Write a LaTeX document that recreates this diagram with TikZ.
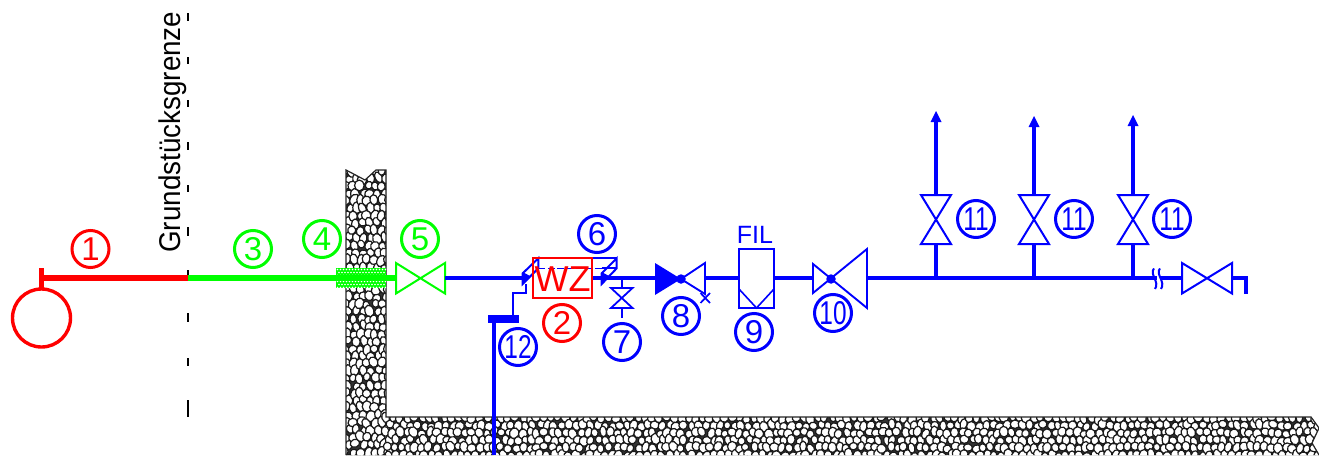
\documentclass[tikz,border=0pt]{standalone}
\usepackage{fontspec}
\setmainfont{Liberation Sans}
\definecolor{pipeblue}{RGB}{0,0,255}
\definecolor{pipered}{RGB}{255,0,0}
\definecolor{pipegreen}{RGB}{0,255,0}
\tikzset{
  numcirc/.style={circle,draw,line width=3pt,minimum size=37pt,inner sep=0pt,font=\fontsize{33}{33}\selectfont},
  dot/.style={circle,fill=pipeblue,inner sep=0pt,minimum size=9.5pt},
  bluepart/.style={draw=pipeblue,text=pipeblue},
  redpart/.style={draw=pipered,text=pipered},
  greenpart/.style={draw=pipegreen,text=pipegreen},
  stone/.style={fill=white,draw=black!90,line width=1.2pt},
}
\begin{document}
\begin{tikzpicture}[x=1pt,y=-1pt]
\useasboundingbox (0,0) rectangle (1319,455);
\fill[white] (0,0) rectangle (1319,455);
% --- masonry
\begin{scope}
\clip (346,170) -- (365,180) -- (376,170) -- (386,170) -- (386,417) -- (1311,417) -- (1319,428) -- (1312,443) -- (1319,455) -- (346,455) -- cycle;
\fill[black!80] (340,165) rectangle (1325,460);
\pgfmathsetseed{4711}
\foreach \ix in {0,...,6}{\foreach \iy in {0,...,39}{
  \pgfmathsetmacro{\px}{346+7.2*\ix+mod(\iy,2)*3+1.5*rand}
  \pgfmathsetmacro{\py}{171+7.4*\iy+1.5*rand}
  \pgfmathsetmacro{\ra}{3.3+1.5*rnd}
  \pgfmathsetmacro{\rb}{3.8+2.2*rnd}
  \pgfmathsetmacro{\rt}{-30+60*rnd}
  \path[stone,rotate around={\rt:(\px,\py)}] (\px,\py) ellipse [x radius=\ra,y radius=\rb];
}}
\foreach \ix in {0,...,130}{\foreach \iy in {0,...,5}{
  \pgfmathsetmacro{\px}{386+7.2*\ix+mod(\iy,2)*3+1.5*rand}
  \pgfmathsetmacro{\py}{418+7.4*\iy+1.5*rand}
  \pgfmathsetmacro{\ra}{3.3+1.5*rnd}
  \pgfmathsetmacro{\rb}{3.6+2.0*rnd}
  \pgfmathsetmacro{\rt}{-30+60*rnd}
  \path[stone,rotate around={\rt:(\px,\py)}] (\px,\py) ellipse [x radius=\ra,y radius=\rb];
}}
\end{scope}
\draw[line width=1.2pt,black!85,line join=miter] (346,455) -- (346,170) -- (365,180) -- (376,170) -- (386,170) -- (386,417) -- (1311,417) -- (1319,428) -- (1312,443) -- (1319,455);
% --- property line
\draw[line width=2.2pt,black] (188,13) -- (188,21) (188,57) -- (188,64) (188,100) -- (188,107) (188,142) -- (188,150) (188,185) -- (188,192) (188,227) -- (188,236) (188,270) -- (188,278) (188,313) -- (188,322) (188,358) -- (188,366) (188,400) -- (188,417);
\node[rotate=90,inner sep=0pt,font=\fontsize{30}{30}\selectfont,anchor=base west] (grenze) at (180,253) {\scalebox{0.927}[1]{Grundstücksgrenze}};
% --- sleeve
\begin{scope}
\clip (336,268) rectangle (386,288);
\fill[pipegreen] (336,268) rectangle (386,288);
\foreach \ix in {0,...,16}{\foreach \iy in {0,...,6}{
  \fill[white] ({337.5+3*\ix+mod(\iy,2)*1.5},{269.5+3*\iy}) circle (0.95);
}}
\end{scope}
% --- named ports
\coordinate (tank) at (41.5,318);
\coordinate (stemTop) at (41,268);
\coordinate (stemBot) at (41,288);
\coordinate (junc0) at (41,278);
\coordinate (boundary) at (188,278);
\coordinate (v5L) at (396,278);
\coordinate (v5R) at (445,278);
\coordinate (mL) at (525,278);
\coordinate (mR) at (592,278);
\coordinate (j7) at (621.7,278);
\coordinate (v8L) at (655,278);
\coordinate (v8C) at (681,279);
\coordinate (v8R) at (705,278);
\coordinate (fL) at (739,278);
\coordinate (fR) at (774,278);
\coordinate (v10L) at (813,278);
\coordinate (v10R) at (867,278);
\coordinate (brk1) at (1157,278);
\coordinate (brk2) at (1161,278);
\coordinate (eL) at (1182,278);
\coordinate (eR) at (1232,278);
\coordinate (eC) at (1246,278);
\coordinate (eD) at (1246,294);
% --- pipes red/green
\draw[pipered,line width=3.4pt] (tank) circle (29);
\draw[pipered,line width=5pt] (stemTop) -- (stemBot);
\draw[pipered,line width=5.5pt] (junc0) -- (boundary);
\draw[pipegreen,line width=5.5pt] (boundary) -- (v5L);
% --- green valve
\draw[pipegreen,line width=2pt,line join=miter] (396,263) -- (396,293.5) -- (445,263) -- (445,293.5) -- cycle;
% --- blue pipes
\foreach \a/\b in {v5R/mL,mR/v8L,v8R/fL,fR/v10L,v10R/brk1,brk2/eL}{
  \draw[pipeblue,line width=4pt] (\a) -- (\b);
}
\draw[pipeblue,line width=4pt] (eR) -- (eC);
\draw[pipeblue,line width=4.6pt] (1246,276) -- (eD);
% --- break mark
\draw[pipeblue,line width=2pt] (1154,268.5) .. controls (1149,274) and (1160,282) .. (1155,289);
\draw[pipeblue,line width=2pt] (1160,268.5) .. controls (1155,274) and (1166,282) .. (1161,289);
% --- end valve
\draw[pipeblue,line width=2pt,line join=miter] (1182,263) -- (1182,293.5) -- (1232,263) -- (1232,293.5) -- cycle;
% --- risers
\foreach \x/\t/\n in {936/111/a,1034/116/b,1133/115/c}{
  \coordinate (r\n b) at (\x,244);
  \coordinate (r\n t) at (\x,195);
  \coordinate (r\n a) at (\x,{\t+8});
  \draw[pipeblue,line width=4pt] (\x,278) -- (r\n b);
  \draw[pipeblue,line width=4pt] (r\n t) -- (r\n a);
  \fill[pipeblue] (\x,\t) -- (\x+5.5,\t+11) -- (\x-5.5,\t+11) -- cycle;
  \draw[pipeblue,line width=2pt,line join=miter] (\x-15,195) -- (\x+15,195) -- (\x-15,244) -- (\x+15,244) -- cycle;
}
% --- valve 7
\coordinate (v7b) at (621.7,318);
\draw[pipeblue,line width=2.2pt] (j7) -- (621.7,288);
\draw[pipeblue,line width=2.2pt] (621.7,308) -- (v7b);
\draw[pipeblue,line width=1.8pt,line join=miter] (611,288) -- (632.5,288) -- (611,308) -- (632.5,308) -- cycle;
% --- valve 8
\fill[pipeblue] (655,263) -- (655,295) -- (681,279) -- cycle;
\draw[pipeblue,line width=1.9pt,line join=miter] (681,279) -- (705,263) -- (705,294) -- cycle;
\node[dot] (d8) at (v8C) {};
\draw[pipeblue,line width=1.7pt] (700.5,293) -- (710,303) (700.5,303) -- (710,293);
% --- filter
\draw[pipeblue,line width=1.9pt,fill=white] (739,249) rectangle (774,308);
\draw[pipeblue,line width=1.6pt] (739,289) -- (756.5,308) -- (774,289);
\node[text=pipeblue,inner sep=0pt,font=\fontsize{25}{25}\selectfont] (fil) at (755,234.5) {FIL};
% --- valve 10
\draw[pipeblue,line width=1.9pt,line join=miter] (813,264) -- (813,293) -- (867,249) -- (867,308) -- cycle;
\node[dot] (d10) at (831,279) {};
% --- gas meter
\draw[pipeblue,line width=1.7pt] (513,315) -- (513,293) -- (526,293) -- (526,284);
\draw[pipeblue,line width=2pt,line join=miter] (538.3,258.3) -- (616.7,258.3);
\draw[pipeblue,line width=1.4pt,dash pattern=on 7pt off 2.5pt] (538.3,268.3) -- (601.7,268.3);
\draw[pipeblue,line width=2pt,line join=miter] (522.7,284) -- (522.7,273.3) -- (538.3,258.3) -- (538.3,268.3) -- cycle;
\fill[pipeblue] (522.7,284) -- (522.7,272) -- (530,276) -- cycle;
\draw[pipeblue,line width=2pt,line join=miter] (601.7,284) -- (601.7,273.3) -- (616.7,258.3) -- (616.7,268.3) -- cycle;
\draw[pipeblue,line width=2pt] (601.7,268.3) -- (616.7,268.3);
\fill[pipeblue] (601.7,284) -- (601.7,272) -- (609,276) -- cycle;
\draw[pipered,line width=2.2pt] (533,258) rectangle (592,298);
\node[text=pipered,inner sep=0pt,font=\fontsize{36}{36}\selectfont] (wz) at (562.5,279) {WZ};
% --- service line
\fill[pipeblue] (488,315) rectangle (519,323);
\coordinate (svcT) at (494,323);
\coordinate (svcB) at (494,455);
\draw[pipeblue,line width=4pt] (svcT) -- (svcB);
% --- labels
\foreach \nm/\x/\y/\t in {n1/90.5/249/1,n2/562/323/2}{
  \node[numcirc,redpart] (\nm) at (\x,\y) {\t};
}
\foreach \nm/\x/\y/\t in {n3/253/249/3,n4/322/239/4,n5/420/239/5}{
  \node[numcirc,greenpart] (\nm) at (\x,\y) {\t};
}
\foreach \nm/\x/\y/\t in {n6/597/234/6,n7/622/342/7,n8/681/316/8,n9/754/332/9}{
  \node[numcirc,bluepart] (\nm) at (\x,\y) {\t};
}
\foreach \nm/\x/\y/\t in {n10/833/313/10,n12/518/347/12,n11a/976/219/11,n11b/1074/219/11,n11c/1172/219/11}{
  \node[numcirc,bluepart] (\nm) at (\x,\y) {\scalebox{0.74}[1]{\t}};
}
\end{tikzpicture}
\end{document}
